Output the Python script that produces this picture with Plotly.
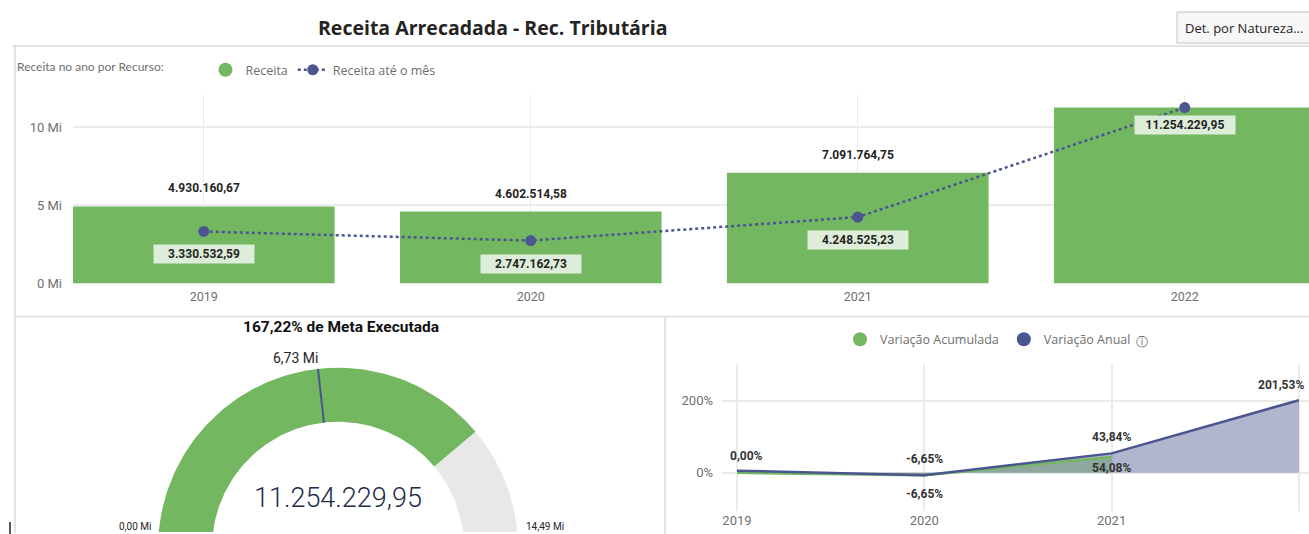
import numpy as np
import plotly.graph_objects as go

W, H_REF = 1309, 534
H = 543  # drawing height; the capture squeezes it back to the 534 reference rows

# ---------------- data ----------------
years = ["2019", "2020", "2021", "2022"]
receita = [4930160.67, 4602514.58, 7091764.75, 11254229.95]
receita_ate_mes = [3330532.59, 2747162.73, 4248525.23, 11254229.95]
receita_label_visible = [True, True, True, False]

y_ticks_mi = [0, 5, 10]

meta_min = 0.0
meta_max = 14490000.0
meta_alvo = 6730000.0
meta_valor = 11254229.95

var_years = ["2019", "2020", "2021", "2022"]
var_acumulada = [0.00, -6.65, 43.84]
var_anual = [6.0, -6.65, 54.08, 201.53]
var_acumulada_label_visible = [True, True, True]
var_anual_label_visible = [False, True, True, True]
var_y_ticks = [0, 200]

# ---------------- style ----------------
GREEN = "#73b761"
NAVY = "#4b5690"
GRID = "#ebebeb"
GRAY_TXT = "#6f6f6f"
DARK = "#252423"
UI_FONT = "Open Sans, Segoe UI, sans-serif"
LEG_FONT = "Lato, Open Sans, sans-serif"
NUM_FONT = "Roboto, DejaVu Sans, sans-serif"
NBSP = "\u00a0"


def fx(px):
    return px / W


def fy(py):
    return 1 - py / H_REF


def br(v, dec=2):
    s = f"{v:,.{dec}f}"
    return s.replace(",", "#").replace(".", ",").replace("#", ".")


fig = go.Figure()

# ---------------- top chart ----------------
xi = list(range(len(years)))
fig.add_trace(go.Bar(
    x=xi, y=receita, width=0.8, marker=dict(color=GREEN, line=dict(width=0)),
    name="Receita", showlegend=False, xaxis="x", yaxis="y", hoverinfo="skip"))
fig.add_trace(go.Scatter(
    x=[None], y=[None], mode="markers", name="Receita",
    marker=dict(color=GREEN, size=14), legend="legend", xaxis="x", yaxis="y"))
fig.add_trace(go.Scatter(
    x=xi, y=receita_ate_mes, mode="lines+markers", name="Receita até o mês",
    line=dict(color=NAVY, width=2.5, dash="dot"),
    marker=dict(color=NAVY, size=11), legend="legend", xaxis="x", yaxis="y",
    hoverinfo="skip"))

annotations = []
for i, v in enumerate(receita):
    if receita_label_visible[i]:
        annotations.append(dict(
            x=i, y=v, xref="x", yref="y", text=br(v), showarrow=False,
            xanchor="center", yanchor="bottom", yshift=9,
            font=dict(family=NUM_FONT, size=12, color=DARK, weight="bold")))
line_label_shift = [13, 13, 13, 7]
for i, v in enumerate(receita_ate_mes):
    annotations.append(dict(
        x=i, y=v, xref="x", yref="y", text=br(v), showarrow=False,
        xanchor="center", yanchor="top", yshift=-line_label_shift[i],
        width=98, height=16, bgcolor="#deedd9", borderpad=1,
        font=dict(family=NUM_FONT, size=12, color=DARK, weight="bold")))

# ---------------- gauge ----------------
CX, CY = 338, 547
R_OUT, R_IN = 180, 126


def theta(v):
    return np.pi * (1 - (v - meta_min) / (meta_max - meta_min))


def arc_polygon(v0, v1, n=120):
    t = np.linspace(theta(v0), theta(v1), n)
    xs = np.concatenate([R_OUT * np.cos(t), R_IN * np.cos(t[::-1])])
    ys = np.concatenate([R_OUT * np.sin(t), R_IN * np.sin(t[::-1])])
    return np.append(xs, xs[0]), np.append(ys, ys[0])


gx, gy = arc_polygon(meta_valor, meta_max)
fig.add_trace(go.Scatter(x=gx, y=gy, mode="lines", fill="toself",
                         fillcolor="#e8e8e8", line=dict(width=0),
                         showlegend=False, xaxis="x2", yaxis="y2", hoverinfo="skip"))
vx, vy = arc_polygon(meta_min, meta_valor)
fig.add_trace(go.Scatter(x=vx, y=vy, mode="lines", fill="toself",
                         fillcolor=GREEN, line=dict(width=0),
                         showlegend=False, xaxis="x2", yaxis="y2", hoverinfo="skip"))
ta = theta(meta_alvo)
fig.add_trace(go.Scatter(x=[R_IN * np.cos(ta), R_OUT * np.cos(ta)],
                         y=[R_IN * np.sin(ta), R_OUT * np.sin(ta)],
                         mode="lines", line=dict(color=NAVY, width=2),
                         showlegend=False, xaxis="x2", yaxis="y2", hoverinfo="skip"))

pct = meta_valor / meta_alvo * 100
annotations += [
    dict(x=fx(341), y=fy(326), xref="paper", yref="paper",
         xanchor="center", yanchor="middle",
         text=f"{br(pct)}% de Meta Executada", showarrow=False,
         font=dict(family=NUM_FONT, size=15.5, color="#111", weight="bold")),
    dict(x=R_OUT * np.cos(ta), y=R_OUT * np.sin(ta), xref="x2", yref="y2",
         text=f"{br(meta_alvo / 1e6)} Mi", showarrow=False,
         xanchor="right", yanchor="bottom", xshift=2, yshift=1,
         font=dict(family=NUM_FONT, size=14, color=DARK)),
    dict(x=-R_OUT, y=21, xref="x2", yref="y2",
         text=f"{br(meta_min / 1e6)} Mi", showarrow=False,
         xanchor="right", yanchor="middle", xshift=-5,
         font=dict(family=NUM_FONT, size=10, color=DARK)),
    dict(x=R_OUT, y=21, xref="x2", yref="y2",
         text=f"{br(meta_max / 1e6)} Mi", showarrow=False,
         xanchor="left", yanchor="middle", xshift=6,
         font=dict(family=NUM_FONT, size=10, color=DARK)),
    dict(x=0, y=CY - 497, xref="x2", yref="y2",
         xanchor="center", yanchor="middle",
         text=br(meta_valor), showarrow=False,
         font=dict(family=NUM_FONT, size=27, color="#232d47", weight=300)),
]

# ---------------- variation chart ----------------
vxi = list(range(len(var_years)))
fig.add_trace(go.Scatter(
    x=vxi, y=var_anual, mode="lines", fill="tozeroy",
    fillcolor="rgba(75,86,144,0.43)", line=dict(width=0, color=NAVY),
    showlegend=False, xaxis="x3", yaxis="y3", hoverinfo="skip"))
fig.add_trace(go.Scatter(
    x=vxi[:len(var_acumulada)], y=var_acumulada, mode="lines", fill="tozeroy",
    fillcolor="rgba(100,150,100,0.45)", line=dict(width=2.5, color=GREEN),
    showlegend=False, xaxis="x3", yaxis="y3", hoverinfo="skip"))
fig.add_trace(go.Scatter(
    x=vxi, y=var_anual, mode="lines", line=dict(width=2.5, color=NAVY),
    showlegend=False, xaxis="x3", yaxis="y3", hoverinfo="skip"))
fig.add_trace(go.Scatter(
    x=[None], y=[None], mode="markers", name="Variação Acumulada",
    marker=dict(color=GREEN, size=14), legend="legend2", xaxis="x3", yaxis="y3"))
fig.add_trace(go.Scatter(
    x=[None], y=[None], mode="markers", name="Variação Anual",
    marker=dict(color=NAVY, size=14), legend="legend2", xaxis="x3", yaxis="y3"))

acum_shift = [(10, 6), (0, 7), (0, 7)]
anual_shift = [(0, 0), (0, -10), (0, -6), (-18, 6)]
for i, v in enumerate(var_acumulada):
    if var_acumulada_label_visible[i]:
        dx, dy = acum_shift[i]
        y_anchor_val = max(v, var_anual[i])
        annotations.append(dict(
            x=i, y=y_anchor_val, xref="x3", yref="y3", text=br(v) + "%",
            showarrow=False, xanchor="center", yanchor="bottom", xshift=dx, yshift=dy,
            font=dict(family=NUM_FONT, size=12, color="#333", weight="bold")))
for i, v in enumerate(var_anual):
    if var_anual_label_visible[i]:
        dx, dy = anual_shift[i]
        annotations.append(dict(
            x=i, y=v, xref="x3", yref="y3", text=br(v) + "%",
            showarrow=False, xanchor="center", yanchor="top" if dy < 0 else "bottom",
            xshift=dx, yshift=dy,
            font=dict(family=NUM_FONT, size=12, color="#333", weight="bold")))

# ---------------- titles / decorations ----------------
annotations += [
    dict(x=fx(492), y=fy(27), xref="paper", yref="paper",
         xanchor="center", yanchor="middle",
         text="Receita Arrecadada - Rec. Tributária", showarrow=False,
         font=dict(family=UI_FONT, size=19.5, color=DARK, weight="bold")),
    dict(x=fx(1183), y=fy(28), xref="paper", yref="paper",
         xanchor="left", yanchor="middle",
         text="Det. por Natureza...", showarrow=False,
         font=dict(family=UI_FONT, size=13, color=DARK)),
    dict(x=fx(1142), y=fy(341), xref="paper", yref="paper",
         xanchor="center", yanchor="middle",
         text="ⓘ", showarrow=False,
         font=dict(family="DejaVu Sans", size=12, color="#555")),
]

line_col = "#e3e3e3"
shapes = [
    dict(type="rect", xref="paper", yref="paper", x0=fx(1177), x1=fx(1320),
         y0=fy(43), y1=fy(12), fillcolor="#f7f7f7", line=dict(color="#c4c4c4", width=1)),
    dict(type="line", xref="paper", yref="paper", x0=fx(12), x1=1, y0=fy(46), y1=fy(46),
         line=dict(color=line_col, width=2)),
    dict(type="line", xref="paper", yref="paper", x0=fx(15), x1=fx(15), y0=fy(46), y1=fy(532),
         line=dict(color=line_col, width=2)),
    dict(type="line", xref="paper", yref="paper", x0=fx(15), x1=1, y0=fy(316), y1=fy(316),
         line=dict(color=line_col, width=2)),
    dict(type="line", xref="paper", yref="paper", x0=fx(665), x1=fx(665), y0=fy(316), y1=0,
         line=dict(color=line_col, width=2)),
    dict(type="line", xref="paper", yref="paper", x0=fx(10), x1=fx(10), y0=fy(521), y1=fy(534),
         line=dict(color="#222", width=1.5)),
]

axis_common = dict(showline=False, zeroline=False, ticks="", fixedrange=True)

fig.update_layout(
    width=W, height=H, autosize=False, margin=dict(l=0, r=0, t=0, b=0, pad=0),
    paper_bgcolor="white", plot_bgcolor="white", hovermode=False,
    bargap=0.2,
    xaxis=dict(domain=[fx(73), 1], range=[-0.4, 3.38], tickvals=xi, ticktext=years,
               anchor="y", showgrid=True, gridcolor=GRID, gridwidth=1, ticklabelstandoff=4,
               tickfont=dict(family=NUM_FONT, size=12.5, color=GRAY_TXT), **axis_common),
    yaxis=dict(domain=[fy(283), fy(95)], range=[0, 12.05e6], anchor="x",
               tickvals=[t * 1e6 for t in y_ticks_mi],
               ticktext=[f"{t} Mi" for t in y_ticks_mi],
               showgrid=True, gridcolor=GRID, gridwidth=1.5, ticklabelstandoff=10,
               tickfont=dict(family=NUM_FONT, size=13, color=GRAY_TXT), **axis_common),
    xaxis2=dict(domain=[fx(17), fx(664)], range=[17 - CX, 664 - CX], visible=False,
                anchor="y2", fixedrange=True),
    yaxis2=dict(domain=[fy(531), fy(318)], range=[CY - 531, CY - 318], visible=False,
                anchor="x2", fixedrange=True),
    xaxis3=dict(domain=[fx(722), 1], range=[-0.08, 3.054], tickvals=vxi, ticktext=var_years,
                anchor="y3", showgrid=True, gridcolor=GRID, gridwidth=1.5,
                tickfont=dict(family=NUM_FONT, size=13, color=GRAY_TXT), **axis_common),
    yaxis3=dict(domain=[fy(510), fy(363)], range=[-105.6, 302.8], anchor="x3",
                tickvals=var_y_ticks, ticktext=[f"{t}%" for t in var_y_ticks],
                showgrid=True, gridcolor=GRID, gridwidth=1.5, ticklabelstandoff=8,
                tickfont=dict(family=NUM_FONT, size=13, color=GRAY_TXT), **axis_common),
    legend=dict(x=fx(15), y=fy(70), xanchor="left", yanchor="middle", orientation="h",
                title=dict(text="Receita no ano por Recurso:" + NBSP * 11, side="left",
                           font=dict(family=LEG_FONT, size=12, color=GRAY_TXT)),
                font=dict(family=UI_FONT, size=12.5, color=GRAY_TXT),
                bgcolor="rgba(0,0,0,0)", itemwidth=30, tracegroupgap=0),
    legend2=dict(x=fx(988), y=fy(339), xanchor="center", yanchor="middle", orientation="h",
                 font=dict(family=UI_FONT, size=12.5, color=GRAY_TXT),
                 bgcolor="rgba(0,0,0,0)", itemwidth=30),
    annotations=annotations,
    shapes=shapes,
)

fig.write_html(
    "out.html",
    config={"displayModeBar": False, "responsive": False},
    post_script="document.body.style.margin='0';document.body.style.overflow='hidden';",
)
